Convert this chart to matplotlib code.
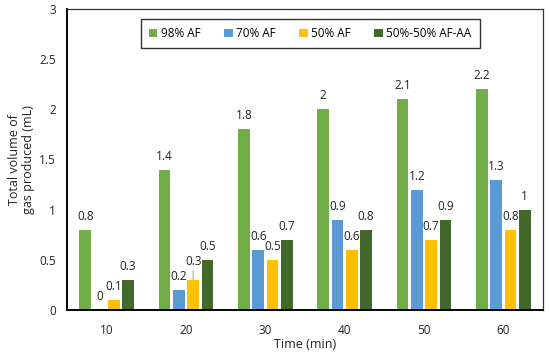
import numpy as np
import matplotlib
matplotlib.use('Agg')
import matplotlib.pyplot as plt

plt.rcParams['font.family'] = ['Open Sans', 'DejaVu Sans']

# Dados
tempos = ['10', '20', '30', '40', '50', '60']
series = ['98% AF', '70% AF', '50% AF', '50%-50% AF-AA']
v98 = [0.8, 1.4, 1.8, 2.0, 2.1, 2.2]
v70 = [0.0, 0.2, 0.6, 0.9, 1.2, 1.3]
v50 = [0.1, 0.3, 0.5, 0.6, 0.7, 0.8]
v5050 = [0.3, 0.5, 0.7, 0.8, 0.9, 1.0]
cores = ['#70AD47', '#5B9BD5', '#FFC000', '#43682B']

fig = plt.figure(figsize=(5.5, 3.53), dpi=100)
ax = fig.add_axes([67 / 550, 1 - 310 / 353, (543 - 67) / 550, (310 - 9) / 353])

x = np.arange(len(tempos))
larg = 0.145
passo = 0.18
dados = [v98, v70, v50, v5050]
for i, (vals, cor, nome) in enumerate(zip(dados, cores, series)):
    pos = x + (i - 1.5) * passo
    ax.bar(pos, vals, width=larg, color=cor, label=nome)
    for j, (p, v) in enumerate(zip(pos, vals)):
        txt = f'{v:g}'
        if i == 2 and j == 1:
            # rotulo deslocado com linha de chamada
            ax.annotate(txt, xy=(p, v), xytext=(p, v + 0.12), ha='center', va='bottom',
                        fontsize=8.5, color='#222222',
                        arrowprops=dict(arrowstyle='-', color='#aaaaaa', lw=0.8, shrinkA=0, shrinkB=0))
        else:
            ax.annotate(txt, xy=(p, v), xytext=(0, 5), textcoords='offset points',
                        ha='center', va='bottom', fontsize=8.5, color='#222222')

ax.set_xlim(-0.5, 5.5)
ax.set_ylim(0, 3)
ax.set_xticks(x)
ax.set_xticklabels(tempos)
ax.set_yticks([0, 0.5, 1, 1.5, 2, 2.5, 3])
ax.set_yticklabels(['0', '0.5', '1', '1.5', '2', '2.5', '3'])
ax.tick_params(length=0, labelsize=8.5, colors='#222222', pad=8)
ax.tick_params(axis='x', pad=10)
for lado in ['left', 'bottom']:
    ax.spines[lado].set_linewidth(1.4)
    ax.spines[lado].set_color('black')
for lado in ['top', 'right']:
    ax.spines[lado].set_linewidth(0.9)
    ax.spines[lado].set_color('#333333')

ax.set_xlabel('Time (min)', fontsize=9, color='#222222', labelpad=1)
ax.set_ylabel('Total volume of\ngas produced (mL)', fontsize=9, color='#222222',
              labelpad=3, linespacing=1.1)

leg = ax.legend(loc='upper center', bbox_to_anchor=(0.511, 0.987), ncol=4, fontsize=8.5,
                frameon=True, fancybox=False, edgecolor='black', handlelength=0.7,
                handleheight=0.7, handletextpad=0.3, columnspacing=2.0, borderpad=0.7)
leg.get_frame().set_linewidth(1.0)

fig.savefig('out.png', dpi=100)
